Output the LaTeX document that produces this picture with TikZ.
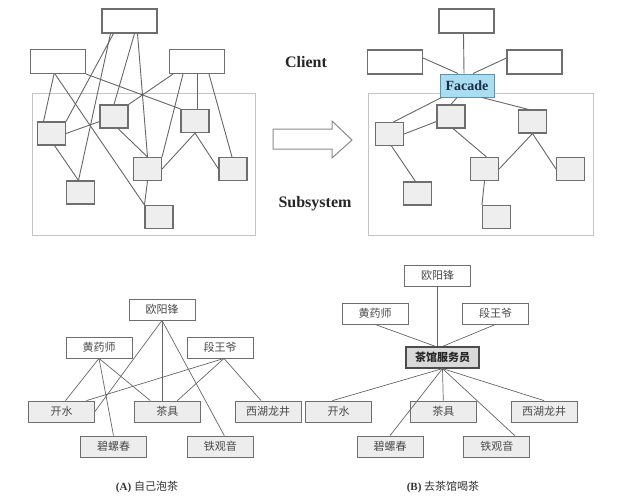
\documentclass[tikz,border=0pt]{standalone}
\usepackage{fontspec}
\setmainfont{Liberation Serif}
\newfontfamily\cjk{Noto Sans CJK SC}
\usetikzlibrary{positioning}
\definecolor{boxgray}{HTML}{6E6E6E}
\definecolor{subfill}{HTML}{EEEEEE}
\definecolor{framegray}{HTML}{C4C4C4}
\definecolor{linegray}{HTML}{666666}
\definecolor{facadefill}{HTML}{A9DDF1}
\definecolor{facadeline}{HTML}{5F93B0}
\definecolor{facadetext}{HTML}{1B2B44}
\definecolor{teafill}{HTML}{EDEDED}
\definecolor{waiterfill}{HTML}{D9D9D9}
\definecolor{labelgray}{HTML}{4A4A4A}
\tikzset{clientbox/.style={rectangle,draw=boxgray,fill=white,
inner sep=0pt,line width=1.1pt,minimum height=24pt, minimum width=55pt}}
\tikzset{subbox/.style={rectangle,draw=boxgray,fill=subfill,
inner sep=0pt,line width=1.1pt,minimum height=23pt, minimum width=28pt}}
\tikzset{facadebox/.style={rectangle,draw=facadeline,fill=facadefill,text=facadetext,
inner sep=0pt,line width=1pt,minimum height=23pt, minimum width=54pt,
font=\bfseries\fontsize{14}{16}\selectfont}}
\tikzset{guestbox/.style={rectangle,draw=boxgray,fill=white,text=labelgray,
inner sep=0pt,line width=0.8pt,minimum height=21pt, minimum width=66pt,
font=\cjk\fontsize{11}{13}\selectfont}}
\tikzset{teabox/.style={guestbox,fill=teafill}}
\tikzset{waiterbox/.style={guestbox,fill=waiterfill,line width=1.2pt,draw=black!70,text=black!85,
minimum width=73pt,font=\cjk\bfseries\fontsize{11}{13}\selectfont}}
\tikzset{subframe/.style={draw=framegray,line width=1pt}}
\tikzset{wire/.style={draw=linegray,line width=0.9pt}}
\tikzset{thinwire/.style={draw=linegray,line width=0.7pt}}
\tikzset{bigword/.style={font=\bfseries\fontsize{16}{18}\selectfont,text=black!85}}

\begin{document}
\begin{tikzpicture}[x=1pt,y=-1pt]
    \useasboundingbox (0,0) rectangle (620,496);

        \draw[subframe] (32,93) rectangle (255,235);
        \draw[subframe] (368,93) rectangle (593,235);

        \node[clientbox] (clientA) at (129.5,21) {};
        \node[clientbox] (clientB) at (58,61.5) {};
        \node[clientbox] (clientC) at (197,61.5) {};
        \node[subbox] (subA) at (51.5,133.5) {};
        \node[subbox] (subB) at (114,116.5) {};
        \node[subbox] (subC) at (195,121) {};
        \node[subbox] (subD) at (147.5,169) {};
        \node[subbox] (subE) at (233,169) {};
        \node[subbox] (subF) at (80.5,192.5) {};
        \node[subbox] (subG) at (159,217) {};

        \draw[wire] ([xshift=-16pt]clientA.south) -- (subA.north east);
        \draw[wire] ([xshift=-19pt]clientA.south) -- ([xshift=-2pt]subF.north);
        \draw[wire] ([xshift=5pt]clientA.south) -- (subB.north);
        \draw[wire] ([xshift=8pt]clientA.south) -- (subD.north);
        \draw[wire] ([xshift=-4pt]clientB.south) -- ([xshift=-8pt]subA.north);
        \draw[wire] ([xshift=-3pt]clientB.south) -- (subG.north west);
        \draw[wire] (clientB.south east) -- (subC.north west);
        \draw[wire] ([xshift=-24pt]clientC.south) -- (subB.north east);
        \draw[wire] ([xshift=-14pt]clientC.south) -- (subD.north east);
        \draw[wire] (clientC.south) -- (clientC.south |- subC.north);
        \draw[wire] ([xshift=12pt]clientC.south) -- ([xshift=-1pt]subE.north);
        \draw[wire] (subA.east) -- ([yshift=-5pt]subB.west);
        \draw[wire] ([xshift=3pt]subA.south) -- ([xshift=-2pt]subF.north);
        \draw[wire] ([xshift=4pt]subB.south) -- (subD.north);
        \draw[wire] (subC.south) -- (subD.east);
        \draw[wire] (subC.south) -- (subE.west);
        \draw[wire] (subD.south) -- (subG.north west);

        \draw[line width=1pt,draw=boxgray!80,fill=white] (273,129) -- (332,129) -- (332,121) -- (352,140)
            -- (332,158) -- (332,149) -- (273,149) -- cycle;
        \node[bigword] (client) at (306,62) {Client};
        \node[bigword] (subsystem) at (315,204) {Subsystem};

        \node[clientbox] (userA) at (466.5,21) {};
        \node[clientbox] (userB) at (395,62) {};
        \node[clientbox] (userC) at (534.5,62) {};
        \node[facadebox] (facade) at (467,85.5) {Facade};
        \node[subbox] (partA) at (389.5,134) {};
        \node[subbox] (partB) at (451,116.5) {};
        \node[subbox] (partC) at (532.5,121.5) {};
        \node[subbox] (partD) at (484.5,169) {};
        \node[subbox] (partE) at (570.5,169) {};
        \node[subbox] (partF) at (417.5,193.5) {};
        \node[subbox] (partG) at (496.5,217) {};

        \draw[wire] ([xshift=-3pt]userA.south) -- ([xshift=-3pt]facade.north);
        \draw[wire] ([yshift=4pt]userB.east) -- ([xshift=-9pt]facade.north);
        \draw[wire] ([yshift=4pt]userC.west) -- ([xshift=6pt]facade.north);
        \draw[wire] ([xshift=2pt]facade.south west) -- ([xshift=4pt]partA.north);
        \draw[wire] ([xshift=-10pt]facade.south) -- (partB.north);
        \draw[wire] ([xshift=15pt]facade.south) -- ([xshift=-4pt]partC.north);
        \draw[wire] (partA.east) -- ([yshift=-5pt]partB.west);
        \draw[wire] ([xshift=2pt]partA.south) -- ([xshift=-2pt]partF.north);
        \draw[wire] ([xshift=2pt]partB.south) -- ([xshift=2pt]partD.north);
        \draw[wire] (partC.south) -- (partD.east);
        \draw[wire] (partC.south) -- (partE.west);
        \draw[wire] (partD.south) -- (partG.north west);

        \node[guestbox] (ouyangA) at (162,309.5) {欧阳锋};
        \node[guestbox] (huangA) at (99,347.5) {黄药师};
        \node[guestbox] (duanA) at (220,347.5) {段王爷};
        \node[teabox] (waterA) at (61.5,411.5) {开水};
        \node[teabox] (setA) [right=39pt of waterA] {茶具};
        \node[teabox] (longjingA) [right=34pt of setA] {西湖龙井};
        \node[teabox] (biluoA) at (113.5,446.5) {碧螺春};
        \node[teabox] (tieA) [right=40pt of biluoA] {铁观音};
        \node[text=black!80] (captionA) at (147,487) {\fontsize{11}{13}\selectfont\textbf{(A)} {\cjk 自己泡茶}};

        \draw[thinwire] (ouyangA.south) -- (waterA.east);
        \draw[thinwire] (ouyangA.south) -- (ouyangA.south |- setA.north);
        \draw[thinwire] (ouyangA.south) -- ([xshift=4pt]tieA.north);
        \draw[thinwire] (huangA.south) -- ([xshift=4pt]waterA.north);
        \draw[thinwire] (huangA.south) -- (biluoA.north);
        \draw[thinwire] (huangA.south) -- ([xshift=-17pt]setA.north);
        \draw[thinwire] ([xshift=4pt]duanA.south) -- ([xshift=25pt]waterA.north);
        \draw[thinwire] ([xshift=4pt]duanA.south) -- ([xshift=10pt]setA.north);
        \draw[thinwire] ([xshift=4pt]duanA.south) -- ([xshift=-7pt]longjingA.north);

        \node[guestbox] (ouyangB) at (437.5,275.5) {欧阳锋};
        \node[guestbox] (huangB) at (375,313.5) {黄药师};
        \node[guestbox] (duanB) at (495.5,313.5) {段王爷};
        \node[waiterbox] (waiter) at (442.5,357.5) {茶馆服务员};
        \node[teabox] (waterB) at (338.5,411.5) {开水};
        \node[teabox] (setB) [right=38pt of waterB] {茶具};
        \node[teabox] (longjingB) [right=34pt of setB] {西湖龙井};
        \node[teabox] (biluoB) at (390,446.5) {碧螺春};
        \node[teabox] (tieB) [right=40pt of biluoB] {铁观音};
        \node[text=black!80] (captionB) at (443,487) {\fontsize{11}{13}\selectfont\textbf{(B)} {\cjk 去茶馆喝茶}};

        \draw[thinwire] (ouyangB.south) -- (ouyangB.south |- waiter.north);
        \draw[thinwire] (huangB.south) -- ([xshift=-7pt]waiter.north);
        \draw[thinwire] (duanB.south) -- (waiter.north);
        \draw[thinwire] (waiter.south) -- ([xshift=-6pt]waterB.north);
        \draw[thinwire] (waiter.south) -- (biluoB.north);
        \draw[thinwire] (waiter.south) -- (setB.north);
        \draw[thinwire] (waiter.south) -- ([xshift=18pt]tieB.north);
        \draw[thinwire] (waiter.south) -- (longjingB.north);

    \end{tikzpicture}
\end{document}
